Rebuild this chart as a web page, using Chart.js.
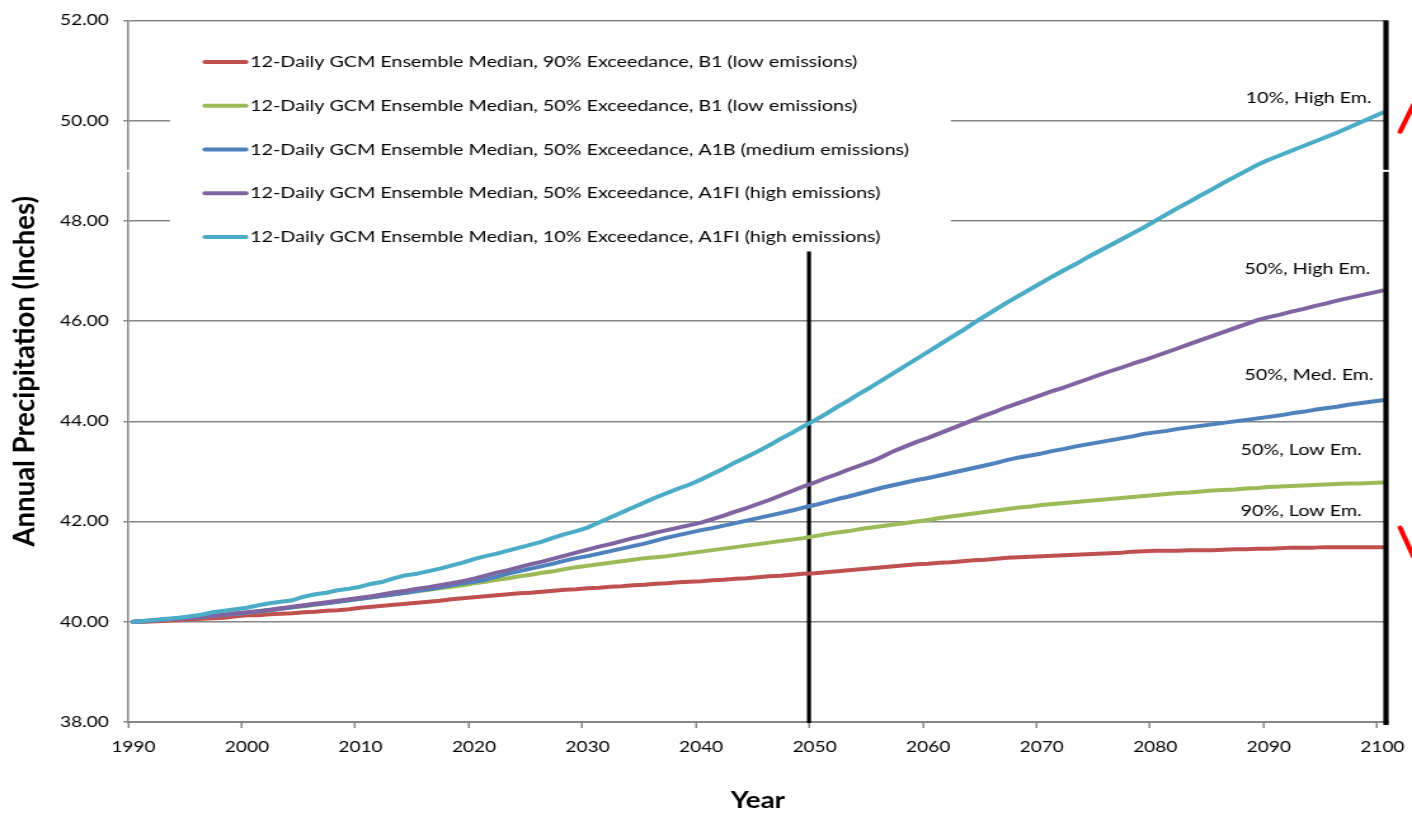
<!DOCTYPE html>
<html>
<head>
<meta charset="utf-8">
<title>Annual Precipitation Projections</title>
<script src="https://cdn.jsdelivr.net/npm/chart.js@4.4.1/dist/chart.umd.min.js"></script>
<style>
  html, body { margin: 0; padding: 0; background: #fff; overflow: hidden; }
  /* the drawing is laid out at 1112px and widened to 1412px */
  #wrap { width: 1112px; height: 816px; transform: scaleX(1.26978); transform-origin: 0 0; }
  canvas { display: block; }
</style>
</head>
<body>
<div id="wrap"><canvas id="chart" width="1112" height="816"></canvas></div>
<script>
// ---- categories and tick labels ----
const years = Array.from({ length: 111 }, (_, i) => 1990 + i);
const decadeTicks = [1990, 2000, 2010, 2020, 2030, 2040, 2050, 2060, 2070, 2080, 2090, 2100];

// ---- series (annual precipitation, inches), one value per year 1990..2100 ----
const exc90LowB1 = [
  40.00, 40.00, 40.01, 40.02, 40.03, 40.05, 40.06, 40.07, 40.08, 40.11,
  40.13, 40.13, 40.15, 40.16, 40.17, 40.19, 40.20, 40.22, 40.23, 40.25,
  40.28, 40.30, 40.32, 40.34, 40.36, 40.38, 40.40, 40.42, 40.45, 40.47,
  40.49, 40.51, 40.53, 40.55, 40.57, 40.58, 40.60, 40.62, 40.64, 40.65,
  40.67, 40.68, 40.70, 40.71, 40.73, 40.74, 40.76, 40.77, 40.79, 40.80,
  40.81, 40.83, 40.84, 40.86, 40.87, 40.89, 40.91, 40.92, 40.94, 40.96,
  40.97, 40.99, 41.01, 41.03, 41.05, 41.07, 41.09, 41.11, 41.13, 41.15,
  41.16, 41.18, 41.19, 41.21, 41.23, 41.24, 41.26, 41.28, 41.29, 41.30,
  41.31, 41.32, 41.33, 41.34, 41.35, 41.36, 41.37, 41.38, 41.40, 41.41,
  41.42, 41.42, 41.42, 41.43, 41.43, 41.43, 41.44, 41.45, 41.45, 41.46,
  41.46, 41.47, 41.48, 41.48, 41.48, 41.49, 41.49, 41.49, 41.49, 41.49,
  41.49
];
const exc50LowB1 = [
  40.00, 40.01, 40.03, 40.04, 40.06, 40.08, 40.10, 40.12, 40.14, 40.16,
  40.18, 40.20, 40.23, 40.26, 40.29, 40.31, 40.34, 40.37, 40.40, 40.43,
  40.46, 40.49, 40.52, 40.55, 40.58, 40.61, 40.64, 40.67, 40.70, 40.73,
  40.77, 40.80, 40.84, 40.87, 40.91, 40.94, 40.98, 41.01, 41.05, 41.09,
  41.12, 41.15, 41.18, 41.21, 41.24, 41.27, 41.29, 41.31, 41.34, 41.37,
  41.40, 41.43, 41.46, 41.49, 41.52, 41.55, 41.58, 41.61, 41.64, 41.67,
  41.71, 41.75, 41.78, 41.81, 41.85, 41.88, 41.91, 41.94, 41.97, 42.00,
  42.03, 42.07, 42.10, 42.13, 42.16, 42.19, 42.22, 42.25, 42.28, 42.30,
  42.33, 42.35, 42.37, 42.39, 42.41, 42.43, 42.45, 42.47, 42.49, 42.51,
  42.53, 42.55, 42.57, 42.58, 42.60, 42.62, 42.63, 42.64, 42.66, 42.67,
  42.69, 42.70, 42.71, 42.72, 42.73, 42.74, 42.75, 42.76, 42.76, 42.77,
  42.78
];
const exc50MedA1B = [
  40.00, 40.01, 40.03, 40.05, 40.07, 40.08, 40.10, 40.12, 40.14, 40.16,
  40.18, 40.21, 40.23, 40.26, 40.29, 40.32, 40.35, 40.37, 40.40, 40.43,
  40.46, 40.49, 40.52, 40.55, 40.58, 40.62, 40.65, 40.69, 40.73, 40.77,
  40.80, 40.84, 40.90, 40.96, 41.01, 41.06, 41.11, 41.16, 41.22, 41.27,
  41.31, 41.36, 41.41, 41.46, 41.51, 41.56, 41.62, 41.68, 41.73, 41.78,
  41.83, 41.87, 41.92, 41.97, 42.02, 42.07, 42.12, 42.17, 42.22, 42.28,
  42.33, 42.39, 42.45, 42.50, 42.56, 42.62, 42.68, 42.73, 42.78, 42.83,
  42.87, 42.92, 42.97, 43.02, 43.07, 43.12, 43.17, 43.23, 43.28, 43.32,
  43.36, 43.41, 43.45, 43.50, 43.54, 43.58, 43.62, 43.66, 43.70, 43.75,
  43.78, 43.81, 43.85, 43.88, 43.91, 43.94, 43.97, 44.00, 44.03, 44.06,
  44.09, 44.12, 44.16, 44.19, 44.23, 44.26, 44.29, 44.33, 44.36, 44.39,
  44.42
];
const exc50HighA1FI = [
  40.00, 40.01, 40.03, 40.05, 40.06, 40.08, 40.10, 40.12, 40.14, 40.17,
  40.19, 40.21, 40.24, 40.27, 40.30, 40.33, 40.36, 40.39, 40.42, 40.45,
  40.48, 40.51, 40.55, 40.59, 40.62, 40.66, 40.69, 40.73, 40.77, 40.81,
  40.86, 40.92, 40.98, 41.03, 41.09, 41.15, 41.20, 41.26, 41.32, 41.38,
  41.44, 41.50, 41.55, 41.61, 41.67, 41.72, 41.78, 41.83, 41.88, 41.93,
  41.98, 42.05, 42.12, 42.20, 42.27, 42.35, 42.43, 42.52, 42.61, 42.70,
  42.78, 42.87, 42.95, 43.04, 43.12, 43.20, 43.30, 43.41, 43.50, 43.59,
  43.67, 43.76, 43.85, 43.94, 44.03, 44.12, 44.20, 44.29, 44.37, 44.45,
  44.53, 44.61, 44.68, 44.76, 44.84, 44.92, 45.00, 45.07, 45.15, 45.22,
  45.30, 45.38, 45.46, 45.54, 45.62, 45.70, 45.78, 45.86, 45.94, 46.02,
  46.08, 46.13, 46.19, 46.24, 46.30, 46.35, 46.41, 46.46, 46.51, 46.56,
  46.61
];
const exc10HighA1FI = [
  40.00, 40.02, 40.04, 40.06, 40.08, 40.11, 40.14, 40.19, 40.22, 40.25,
  40.28, 40.33, 40.37, 40.40, 40.43, 40.50, 40.55, 40.58, 40.63, 40.66,
  40.70, 40.76, 40.80, 40.87, 40.93, 40.96, 41.01, 41.06, 41.12, 41.18,
  41.25, 41.31, 41.36, 41.42, 41.48, 41.54, 41.60, 41.68, 41.75, 41.81,
  41.88, 41.98, 42.08, 42.18, 42.28, 42.38, 42.48, 42.57, 42.66, 42.74,
  42.84, 42.95, 43.06, 43.18, 43.29, 43.40, 43.52, 43.65, 43.77, 43.90,
  44.02, 44.15, 44.29, 44.42, 44.56, 44.69, 44.83, 44.97, 45.11, 45.25,
  45.39, 45.53, 45.67, 45.81, 45.96, 46.10, 46.24, 46.38, 46.51, 46.64,
  46.77, 46.90, 47.02, 47.14, 47.27, 47.39, 47.51, 47.63, 47.75, 47.87,
  48.00, 48.13, 48.26, 48.38, 48.51, 48.63, 48.76, 48.88, 49.00, 49.12,
  49.22, 49.31, 49.40, 49.49, 49.58, 49.67, 49.76, 49.86, 49.96, 50.06,
  50.16
];

const seriesLabels = [
  '12-Daily GCM Ensemble Median, 90% Exceedance, B1 (low emissions)',
  '12-Daily GCM Ensemble Median, 50% Exceedance, B1 (low emissions)',
  '12-Daily GCM Ensemble Median, 50% Exceedance, A1B (medium emissions)',
  '12-Daily GCM Ensemble Median, 50% Exceedance, A1FI (high emissions)',
  '12-Daily GCM Ensemble Median, 10% Exceedance, A1FI (high emissions)'
];
const seriesColors = ['#C0504D', '#9BBB59', '#4F81BD', '#8064A2', '#4BACC6'];

// short labels written near the right edge of the plot
const endLabels = ['10%, High Em.', '50%, High Em.', '50%, Med. Em.', '50%, Low Em.', '90%, Low Em.'];
const yTitle = 'Annual Precipitation (Inches)';

// ---- placement of the annotations (canvas px relative to the plot area / y value) ----
const endLabelPlacement = [
  { dx: -112, v: 50.46 },
  { dx: -113, v: 47.04 },
  { dx: -113, v: 44.93 },
  { dx: -116, v: 43.42 },
  { dx: -116, v: 42.21 }
];
const legendPanel = { left: 33.3, right: 648.1, top: 12, bottom: 231, sampleFrom: 60.8, sampleTo: 93.1, textAt: 96.5, firstRow: 41.5, rowStep: 43.75 };
const axisBreakAt = 49.0;   // small white break across the left axis and the right marker
const FONT = 'Lato, "Open Sans", sans-serif';
const LINE_W = 4;

const seriesValues = [exc90LowB1, exc50LowB1, exc50MedA1B, exc50HighA1FI, exc10HighA1FI];

const overlay = {
  id: 'overlay',
  beforeDatasetsDraw(chart) {
    const { ctx, chartArea: a, scales: { x, y } } = chart;
    const p = legendPanel;
    const step = x.getPixelForValue(1) - x.getPixelForValue(0);
    ctx.save();
    // white legend panel over the gridlines
    ctx.fillStyle = '#ffffff';
    ctx.fillRect(a.left + p.left, a.top + p.top, p.right - p.left, p.bottom - p.top);

    // decade tick marks below the category axis
    ctx.strokeStyle = '#868686';
    ctx.lineWidth = 1.5;
    decadeTicks.forEach((yr) => {
      const tx = Math.round(x.getPixelForValue(years.indexOf(yr)) - step / 2) + 0.25;
      ctx.beginPath();
      ctx.moveTo(tx, a.bottom);
      ctx.lineTo(tx, a.bottom + 6);
      ctx.stroke();
    });

    // vertical marker at the 2050 tick
    const x2050 = x.getPixelForValue(years.indexOf(2050)) - step / 2;
    ctx.strokeStyle = '#000';
    ctx.lineWidth = 3.2;
    ctx.beginPath();
    ctx.moveTo(x2050, a.top + p.bottom);
    ctx.lineTo(x2050, a.bottom + 1);
    ctx.stroke();

    // rotated y-axis title
    ctx.translate(y.left + 19.7, (a.top + a.bottom) / 2);
    ctx.rotate(-Math.PI / 2);
    ctx.scale(1.25, 1);
    ctx.font = 'bold 22px ' + FONT;
    ctx.fillStyle = '#000';
    ctx.textAlign = 'center';
    ctx.textBaseline = 'middle';
    ctx.fillText(yTitle, 0, 0);
    ctx.restore();
  },
  afterDatasetsDraw(chart) {
    const { ctx, chartArea: a, scales: { y } } = chart;
    const p = legendPanel;
    ctx.save();
    // vertical marker at the right end of the period
    ctx.strokeStyle = '#000';
    ctx.lineWidth = 4.2;
    ctx.beginPath();
    ctx.moveTo(a.right - 1.6, a.top);
    ctx.lineTo(a.right - 1.6, a.bottom + 3);
    ctx.stroke();

    // thin white break across both vertical rules
    const yb = y.getPixelForValue(axisBreakAt);
    ctx.fillStyle = '#ffffff';
    ctx.fillRect(a.left - 2, yb - 1, 4, 2);
    ctx.fillRect(a.right - 4.5, yb - 1, 6, 2);

    // legend entries
    ctx.font = '15.5px ' + FONT;
    ctx.textBaseline = 'middle';
    ctx.textAlign = 'left';
    chart.data.datasets.forEach((ds, i) => {
      const yy = a.top + p.firstRow + i * p.rowStep;
      ctx.strokeStyle = ds.borderColor;
      ctx.lineWidth = LINE_W;
      ctx.lineCap = 'round';
      ctx.beginPath();
      ctx.moveTo(a.left + p.sampleFrom, yy);
      ctx.lineTo(a.left + p.sampleTo, yy);
      ctx.stroke();
      ctx.fillStyle = '#000';
      ctx.fillText(ds.label, a.left + p.textAt, yy);
    });

    // end-of-line labels
    ctx.font = '15.5px ' + FONT;
    endLabels.forEach((t, i) => {
      const pl = endLabelPlacement[i];
      ctx.fillText(t, a.right + pl.dx, y.getPixelForValue(pl.v));
    });

    // red tick marks beside the right edge
    ctx.strokeStyle = '#ff0000';
    ctx.lineWidth = 4;
    ctx.lineCap = 'round';
    ctx.beginPath();
    ctx.moveTo(a.right + 9.5, y.getPixelForValue(49.78));
    ctx.lineTo(a.right + 20, y.getPixelForValue(50.32));
    ctx.stroke();
    ctx.beginPath();
    ctx.moveTo(a.right + 9.5, y.getPixelForValue(41.88));
    ctx.lineTo(a.right + 20, y.getPixelForValue(41.30));
    ctx.stroke();
    ctx.restore();
  }
};

new Chart(document.getElementById('chart'), {
  type: 'line',
  data: {
    labels: years.map(String),
    datasets: seriesValues.map((vals, i) => ({
      label: seriesLabels[i],
      data: vals,
      borderColor: seriesColors[i],
      backgroundColor: seriesColors[i],
      borderWidth: LINE_W,
      pointRadius: 0,
      pointHoverRadius: 0,
      tension: 0,
      fill: false,
      borderJoinStyle: 'round',
      borderCapStyle: 'round',
      order: seriesValues.length - i
    }))
  },
  options: {
    responsive: false,
    animation: false,
    events: [],
    layout: { padding: { top: 18, right: 18.9, bottom: 0, left: 0 } },
    plugins: { legend: { display: false }, tooltip: { enabled: false } },
    scales: {
      x: {
        type: 'category',
        offset: true,
        // grid kept only to reserve room below the axis; decade ticks are drawn by the overlay
        grid: { display: true, drawOnChartArea: false, drawTicks: true, tickLength: 16, color: 'rgba(0,0,0,0)', offset: true },
        border: { display: true, color: '#868686', width: 2 },
        ticks: {
          autoSkip: false,
          maxRotation: 0,
          minRotation: 0,
          padding: 0,
          color: '#000',
          font: { family: FONT, size: 15 },
          callback: (val, idx) => (decadeTicks.includes(years[idx]) ? String(years[idx]) : null)
        },
        title: {
          display: true,
          text: 'Year',
          color: '#000',
          font: { family: FONT, size: 22, weight: 'bold' },
          padding: { top: 0, bottom: 2 }
        },
        afterFit: (s) => { s.height = 94; }
      },
      y: {
        type: 'linear',
        min: 38,
        max: 52,
        ticks: {
          stepSize: 2,
          padding: 11.5,
          color: '#000',
          font: { family: FONT, size: 15 },
          callback: (v) => Number(v).toFixed(2)
        },
        grid: { color: '#868686', lineWidth: 1.5, tickLength: 3.5, drawTicks: true },
        border: { display: true, color: '#868686', width: 1.5 },
        title: { display: false },
        afterFit: (s) => { s.width = 100.6; }
      }
    }
  },
  plugins: [overlay]
});
</script>
</body>
</html>
